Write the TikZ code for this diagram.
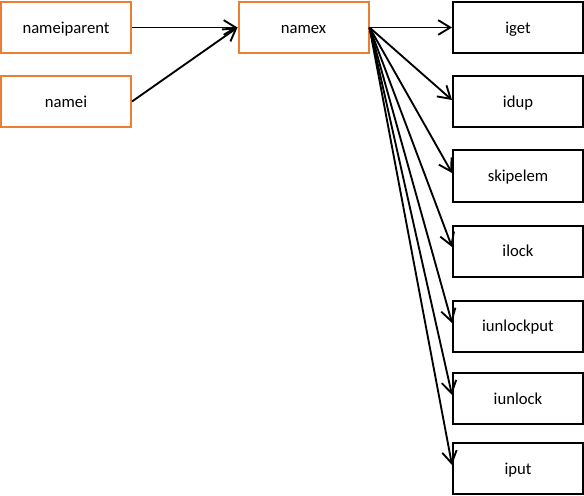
\documentclass[tikz,border=0pt]{standalone}
\usepackage{fontspec}
\setmainfont{Carlito}
\usetikzlibrary{arrows.meta,calc}
\definecolor{boxorange}{HTML}{ED7D31}
\tikzset{
  box/.style={draw, line width=1.5pt, minimum width=97.5pt, minimum height=38.25pt,
    inner sep=0pt, text height=10pt, text depth=1.5pt,
    font=\fontsize{12.5}{14}\selectfont, fill=white},
  srcbox/.style={box, draw=boxorange},
  tgtbox/.style={box, draw=black},
  arr/.style={line width=1.4pt, -{Straight Barb[length=9pt,width=11pt,line width=1.4pt]}}
}
\begin{document}
\begin{tikzpicture}[x=0.75pt,y=-0.75pt]
\useasboundingbox (0,0) rectangle (584,495);
\node[srcbox] (nameiparent) at (66,27.5) {nameiparent};
\node[srcbox] (namei) at (66,101.5) {namei};
\node[srcbox] (namex) at (303.5,27.5) {namex};
\node[tgtbox] (iget) at (518,27.5) {iget};
\node[tgtbox] (idup) at (518,101.5) {idup};
\node[tgtbox] (skipelem) at (518,176) {skipelem};
\node[tgtbox] (ilock) at (518,251) {ilock};
\node[tgtbox] (iunlockput) at (518,326) {iunlockput};
\node[tgtbox] (iunlock) at (518,398.5) {iunlock};
\node[tgtbox] (iput) at (518,468.5) {iput};
\draw[arr] (nameiparent.east) -- (namex.west);
\draw[arr] (namei.east) -- (namex.west);
\draw[arr] (namex.east) -- (iget.west);
\draw[arr] (namex.east) -- ($(idup.west)+(0,-1.5)$);
\draw[arr] (namex.east) -- ($(skipelem.west)+(0,-3)$);
\draw[arr] (namex.east) -- ($(ilock.west)+(0,-4)$);
\draw[arr] (namex.east) -- ($(iunlockput.west)+(0,-3)$);
\draw[arr] (namex.east) -- ($(iunlock.west)+(0,-3.5)$);
\draw[arr] (namex.east) -- ($(iput.west)+(0,-3.5)$);
\end{tikzpicture}
\end{document}
